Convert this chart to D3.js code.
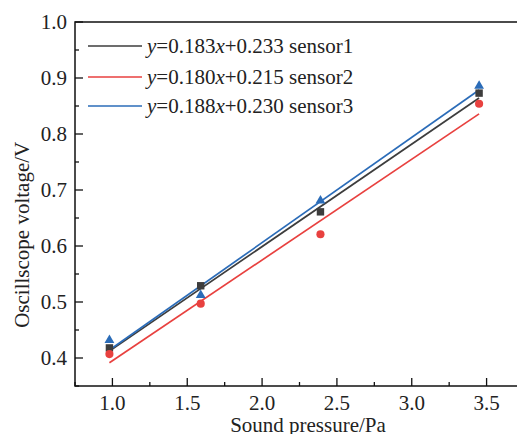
<!DOCTYPE html>
<html>
<head>
<meta charset="utf-8">
<script src="https://cdn.jsdelivr.net/npm/d3@7"></script>
<style>
  body { margin: 0; background: #fff; }
  text { font-family: "Liberation Serif", "Times New Roman", serif; fill: #222; }
</style>
</head>
<body>
<svg id="chart" width="517" height="434"></svg>
<script>
// pressure values (Pa)
var pressure = [0.98, 1.59, 2.39, 3.45];
var sensor1 = [0.418, 0.529, 0.661, 0.873];
var sensor2 = [0.407, 0.497, 0.621, 0.854];
var sensor3 = [0.432, 0.512, 0.681, 0.886];
var seriesNames = ['sensor1', 'sensor2', 'sensor3'];
var slopes = ['0.183', '0.180', '0.188'];
var intercepts = ['0.233', '0.215', '0.230'];
var xTicks = [1.0, 1.5, 2.0, 2.5, 3.0, 3.5];
var yTicks = [0.4, 0.5, 0.6, 0.7, 0.8, 0.9, 1.0];

var colors = ['#3d3d3d', '#e8413f', '#2b6cb8'];
var shapes = [d3.symbolSquare, d3.symbolCircle, d3.symbolTriangle];
var sizes = [55, 52, 42];

var svg = d3.select('#chart');
var mLeft = 75, mTop = 22, mBottom = 386, mRight = 524;

var x = d3.scaleLinear().domain([0.75, 3.75]).range([mLeft, mRight]);
var y = d3.scaleLinear().domain([0.35, 1.0]).range([mBottom, mTop]);

// frame
svg.append('rect')
  .attr('x', mLeft).attr('y', mTop)
  .attr('width', mRight - mLeft).attr('height', mBottom - mTop)
  .style('fill', 'none').style('stroke', '#111').style('stroke-width', 1.5);

// x axis ticks (inward)
var xMinor = d3.range(0.75, 3.76, 0.25);
svg.append('g').selectAll('line').data(xMinor).enter().append('line')
  .attr('x1', d => x(d)).attr('x2', d => x(d))
  .attr('y1', mBottom).attr('y2', d => mBottom - (xTicks.some(t => Math.abs(t - d) < 1e-6) ? 8 : 4))
  .style('stroke', '#111').style('stroke-width', 1.3);
svg.append('g').selectAll('text').data(xTicks).enter().append('text')
  .attr('x', d => x(d)).attr('y', mBottom + 24)
  .attr('text-anchor', 'middle').style('font-size', '21px')
  .text(d => d.toFixed(1));

// y axis ticks
var yMinor = d3.range(0.35, 1.001, 0.05);
svg.append('g').selectAll('line').data(yMinor).enter().append('line')
  .attr('y1', d => y(d)).attr('y2', d => y(d))
  .attr('x1', mLeft).attr('x2', d => mLeft + (yTicks.some(t => Math.abs(t - d) < 1e-6) ? 8 : 4))
  .style('stroke', '#111').style('stroke-width', 1.3);
svg.append('g').selectAll('text').data(yTicks).enter().append('text')
  .attr('x', mLeft - 8).attr('y', d => y(d) + 7)
  .attr('text-anchor', 'end').style('font-size', '21px')
  .text(d => d.toFixed(1));

// axis titles
svg.append('text')
  .attr('x', 308).attr('y', 432)
  .attr('text-anchor', 'middle').style('font-size', '21px')
  .text('Sound pressure/Pa');
svg.append('text')
  .attr('transform', `translate(29, ${y(0.62)}) rotate(-90)`)
  .attr('text-anchor', 'middle').style('font-size', '21px')
  .text('Oscillscope voltage/V');

var data = [sensor1, sensor2, sensor3];

// fit lines
data.forEach((vals, i) => {
  var a = +slopes[i], b = +intercepts[i];
  var x0 = d3.min(pressure), x1 = d3.max(pressure);
  svg.append('line')
    .attr('x1', x(x0)).attr('y1', y(a * x0 + b))
    .attr('x2', x(x1)).attr('y2', y(a * x1 + b))
    .style('stroke', colors[i]).style('stroke-width', 1.7);
});

// markers
data.forEach((vals, i) => {
  svg.append('g').selectAll('path').data(vals).enter().append('path')
    .attr('d', d3.symbol().type(shapes[i]).size(sizes[i]))
    .attr('transform', (d, j) => `translate(${x(pressure[j])},${y(d)})`)
    .style('fill', colors[i]);
});

// legend
var legendY = [46, 77, 106];
seriesNames.forEach((name, i) => {
  var g = svg.append('g');
  g.append('line')
    .attr('x1', 88).attr('x2', 142)
    .attr('y1', legendY[i]).attr('y2', legendY[i])
    .style('stroke', colors[i]).style('stroke-width', 1.7);
  var t = g.append('text')
    .attr('x', 147).attr('y', legendY[i] + 7)
    .style('font-size', '21px');
  t.append('tspan').style('font-style', 'italic').text('y');
  t.append('tspan').text('=' + slopes[i]);
  t.append('tspan').style('font-style', 'italic').text('x');
  t.append('tspan').text('+' + intercepts[i] + ' ' + name);
});
</script>
</body>
</html>
